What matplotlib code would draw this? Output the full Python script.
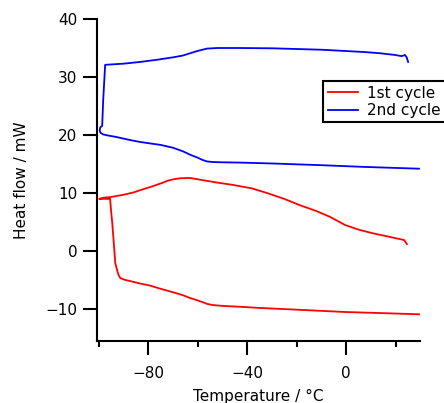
import matplotlib
matplotlib.use("Agg")
import matplotlib.pyplot as plt
from matplotlib.ticker import MultipleLocator

plt.rcParams['font.family'] = ['DejaVu Sans']

# 1st cycle: cooling branch (right to left), then heating branch
temp_1st = [29.9, 15, -0.4, -20, -35, -42.8, -50, -54, -56.2, -58, -60, -63,
            -66, -69.9, -75, -79.2, -83.2, -87, -89.5, -91.3, -92.0, -92.5,
            -93.3, -94.5, -95.0, -95.4, -97.5, -99.8,
            -98, -95.4, -90, -86, -83.2, -78, -74, -72.3, -69.5, -67.1, -63,
            -59, -52, -45.7, -38, -31.9, -25, -18.6, -12, -6.5, -0.4, 5, 10.5,
            13.7, 16, 21.4, 23.5, 24.6]
heat_1st = [-10.9, -10.7, -10.5, -10.1, -9.8, -9.6, -9.45, -9.3, -9.1, -8.8,
            -8.5, -8.1, -7.6, -7.1, -6.5, -5.95, -5.6, -5.2, -4.95, -4.65,
            -4.1, -3.4, -2.1, 4.7, 6.9, 9.0, 9.0, 9.0,
            9.2, 9.3, 9.7, 10.1, 10.5, 11.2, 11.8, 12.1, 12.4, 12.55, 12.6,
            12.3, 11.8, 11.4, 10.8, 10.0, 9.0, 7.9, 6.9, 5.9, 4.5, 3.7, 3.1,
            2.8, 2.6, 2.1, 1.9, 1.2]

# 2nd cycle: cooling branch (right to left), then heating branch
temp_2nd = [29.5, 7.7, -9.7, -30, -42.8, -50.1, -54, -56.2, -58, -60, -63,
            -66, -69.9, -75, -83.2, -88, -93.3, -96, -98.2, -99.3, -99.6,
            -99.4, -98.6, -98.2, -97.4,
            -90, -83.2, -76, -69.9, -66, -63, -60, -56.2, -52, -42.8, -30,
            -9.7, 7.7, 13.7, 19.8, 22.5, 23.8, 24.5, 25.1]
heat_2nd = [14.2, 14.5, 14.8, 15.1, 15.25, 15.3, 15.35, 15.45, 15.7, 16.1,
            16.6, 17.2, 17.8, 18.3, 18.8, 19.2, 19.7, 19.9, 20.1, 20.4, 20.8,
            21.3, 21.6, 26.0, 32.1,
            32.3, 32.6, 33.0, 33.4, 33.7, 34.1, 34.5, 34.9, 35.0, 35.0, 34.95,
            34.7, 34.3, 34.1, 33.8, 33.6, 33.8, 33.4, 32.6]


def plot_dsc():
    fig = plt.figure(figsize=(4.44, 4.03), dpi=100)
    ax = fig.add_axes([97 / 444, 62 / 403, 323 / 444, 322 / 403])

    ax.plot(temp_1st, heat_1st, color="#ff0000", lw=1.3, label="1st cycle")
    ax.plot(temp_2nd, heat_2nd, color="#0000ff", lw=1.3, label="2nd cycle")

    ax.set_xlim(-100.7, 29.9)
    ax.set_ylim(-15.5, 40)
    ax.xaxis.set_major_locator(MultipleLocator(40))
    ax.xaxis.set_minor_locator(MultipleLocator(20))
    ax.yaxis.set_major_locator(MultipleLocator(10))

    for side in ["top", "right"]:
        ax.spines[side].set_visible(False)
    for side in ["left", "bottom"]:
        ax.spines[side].set_linewidth(1.5)

    ax.tick_params(which="major", length=10, width=1.5, labelsize=11, pad=4)
    ax.tick_params(axis="x", which="major", pad=8)
    ax.tick_params(which="minor", length=4.5, width=1.5)

    ax.set_xlabel("Temperature / °C", fontsize=11, labelpad=6)
    ax.set_ylabel("Heat flow / mW", fontsize=11, labelpad=12)

    leg = ax.legend(loc="upper left", bbox_to_anchor=(323 / 444, 1 - 81 / 403),
                    bbox_transform=fig.transFigure, fancybox=False,
                    framealpha=1, edgecolor="black", fontsize=11,
                    borderaxespad=0, handlelength=2.0, handletextpad=0.6,
                    labelspacing=0.15, borderpad=0.3)
    leg.get_frame().set_linewidth(1.5)

    fig.savefig("out.png", dpi=100)
    plt.close(fig)


def main():
    plot_dsc()


if __name__ == "__main__":
    main()
